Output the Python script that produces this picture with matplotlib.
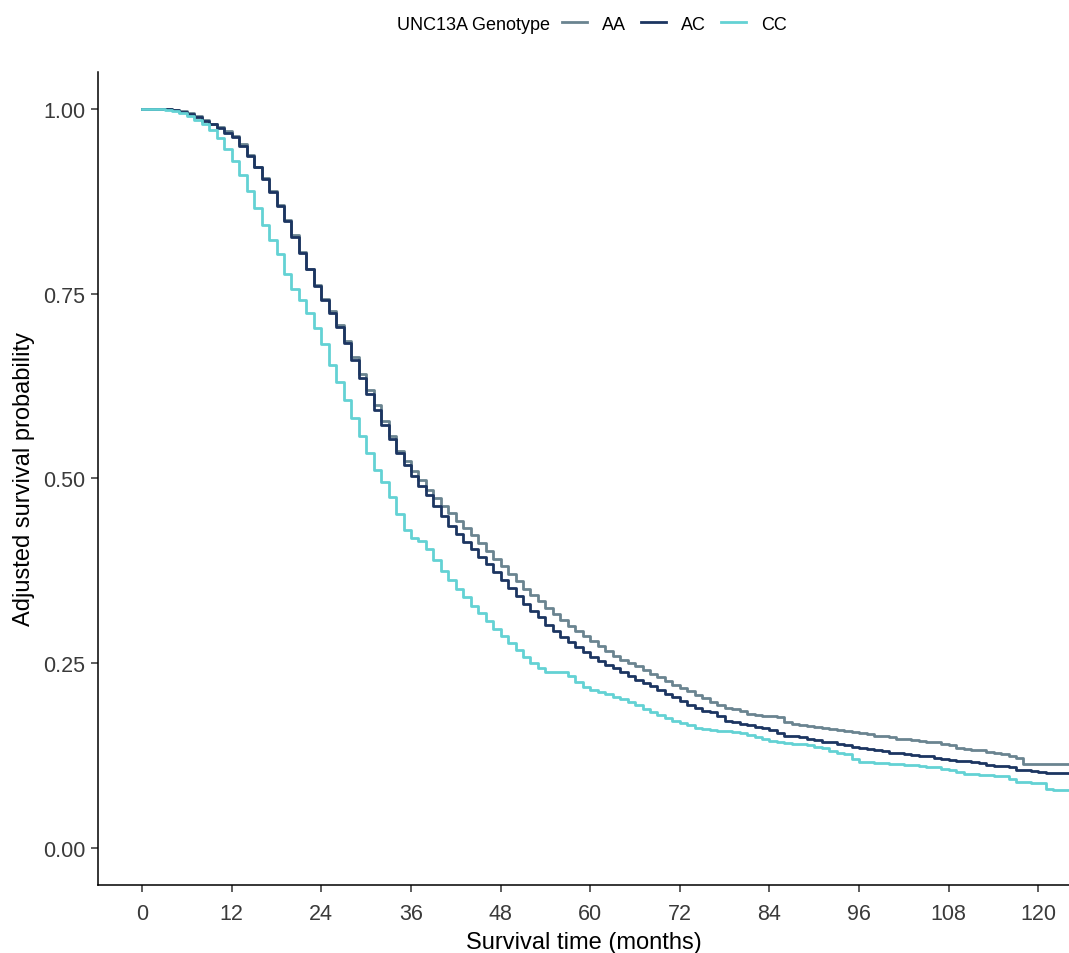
import numpy as np
import matplotlib
matplotlib.use("Agg")
import matplotlib.pyplot as plt

plt.rcParams['font.family'] = ['Liberation Sans', 'DejaVu Sans']

# months since onset, one value per month
months = list(range(0, 125))

aa = [1.000, 1.000, 1.000, 1.000, 0.999, 0.997, 0.994, 0.990, 0.985, 0.980,
      0.975, 0.970, 0.964, 0.952, 0.938, 0.922, 0.906, 0.889, 0.870, 0.850,
      0.829, 0.807, 0.784, 0.762, 0.743, 0.726, 0.707, 0.686, 0.664, 0.641,
      0.620, 0.599, 0.578, 0.558, 0.537, 0.523, 0.510, 0.498, 0.484, 0.473,
      0.463, 0.453, 0.443, 0.433, 0.423, 0.413, 0.402, 0.391, 0.381, 0.371,
      0.361, 0.351, 0.342, 0.334, 0.325, 0.317, 0.309, 0.301, 0.294, 0.287,
      0.280, 0.273, 0.266, 0.260, 0.255, 0.251, 0.246, 0.241, 0.236, 0.231,
      0.226, 0.221, 0.217, 0.212, 0.207, 0.203, 0.198, 0.194, 0.190, 0.188,
      0.185, 0.182, 0.180, 0.179, 0.178, 0.177, 0.170, 0.168, 0.166, 0.165,
      0.164, 0.162, 0.161, 0.160, 0.158, 0.157, 0.155, 0.154, 0.152, 0.151,
      0.150, 0.148, 0.147, 0.146, 0.145, 0.144, 0.143, 0.141, 0.139, 0.136,
      0.134, 0.133, 0.132, 0.130, 0.128, 0.127, 0.125, 0.122, 0.114, 0.114,
      0.114, 0.114, 0.114, 0.114, 0.114]

ac = [1.000, 1.000, 1.000, 1.000, 0.998, 0.996, 0.993, 0.989, 0.984, 0.979,
      0.974, 0.968, 0.962, 0.950, 0.936, 0.921, 0.905, 0.888, 0.869, 0.849,
      0.827, 0.805, 0.783, 0.760, 0.741, 0.724, 0.705, 0.683, 0.660, 0.636,
      0.614, 0.593, 0.572, 0.553, 0.535, 0.518, 0.503, 0.490, 0.477, 0.463,
      0.449, 0.436, 0.425, 0.414, 0.404, 0.394, 0.384, 0.373, 0.363, 0.352,
      0.341, 0.330, 0.321, 0.312, 0.302, 0.294, 0.286, 0.279, 0.272, 0.265,
      0.259, 0.253, 0.248, 0.243, 0.238, 0.233, 0.228, 0.223, 0.219, 0.214,
      0.209, 0.204, 0.199, 0.194, 0.190, 0.186, 0.184, 0.178, 0.172, 0.170,
      0.168, 0.166, 0.164, 0.162, 0.160, 0.156, 0.152, 0.151, 0.150, 0.148,
      0.146, 0.144, 0.143, 0.141, 0.139, 0.137, 0.136, 0.134, 0.133, 0.131,
      0.129, 0.128, 0.127, 0.126, 0.125, 0.124, 0.122, 0.120, 0.119, 0.118,
      0.118, 0.117, 0.115, 0.113, 0.111, 0.111, 0.109, 0.106, 0.105, 0.104,
      0.103, 0.101, 0.101, 0.101, 0.101]

cc = [1.000, 1.000, 1.000, 0.999, 0.997, 0.994, 0.990, 0.985, 0.979, 0.971,
      0.960, 0.946, 0.930, 0.910, 0.889, 0.866, 0.843, 0.822, 0.804, 0.776,
      0.756, 0.742, 0.724, 0.703, 0.682, 0.654, 0.630, 0.606, 0.582, 0.557,
      0.534, 0.511, 0.495, 0.475, 0.452, 0.430, 0.420, 0.415, 0.405, 0.390,
      0.375, 0.362, 0.351, 0.339, 0.328, 0.318, 0.307, 0.297, 0.287, 0.278,
      0.268, 0.258, 0.251, 0.243, 0.238, 0.238, 0.238, 0.233, 0.225, 0.218,
      0.214, 0.211, 0.208, 0.205, 0.201, 0.197, 0.193, 0.188, 0.184, 0.180,
      0.176, 0.172, 0.169, 0.166, 0.163, 0.161, 0.160, 0.159, 0.158, 0.157,
      0.155, 0.153, 0.150, 0.147, 0.145, 0.143, 0.142, 0.141, 0.141, 0.139,
      0.137, 0.135, 0.131, 0.129, 0.127, 0.121, 0.116, 0.116, 0.115, 0.115,
      0.114, 0.114, 0.113, 0.112, 0.111, 0.110, 0.109, 0.107, 0.105, 0.103,
      0.100, 0.100, 0.099, 0.099, 0.098, 0.098, 0.094, 0.089, 0.089, 0.088,
      0.088, 0.080, 0.078, 0.078, 0.078]

genotypes = ['AA', 'AC', 'CC']
colors = ['#6a8490', '#1c3561', '#63d2d4']

fig = plt.figure(figsize=(10.69, 9.54), dpi=100)
ax = fig.add_axes([0.0917, 0.0713, 0.9083, 0.8522])

for g, y, c in zip(genotypes, [aa, ac, cc], colors):
    ax.plot(months, y, drawstyle='steps-post', color=c, lw=2.0, label=g)

ax.set_xlim(-5.9, 124.1)
ax.set_ylim(-0.05, 1.05)
ax.set_xticks(range(0, 121, 12))
ax.set_yticks([0, 0.25, 0.5, 0.75, 1.0])
ax.set_yticklabels(['0.00', '0.25', '0.50', '0.75', '1.00'])
for s in ['top', 'right']:
    ax.spines[s].set_visible(False)
for s in ['left', 'bottom']:
    ax.spines[s].set_linewidth(1.1)
ax.tick_params(direction='out', length=5, width=1.1, labelsize=15.5,
               labelcolor='#3a3a3a', colors='#333333')
ax.tick_params(axis='x', pad=8)
ax.tick_params(axis='y', pad=4)
ax.set_xlabel('Survival time (months)', fontsize=17, labelpad=5)
ax.set_ylabel('Adjusted survival probability', fontsize=17, labelpad=6)

fig.text(550 / 1069, 1 - 25 / 954, 'UNC13A Genotype', ha='right', va='center',
         fontsize=13)
fig.legend(loc='center left', bbox_to_anchor=(562 / 1069, 1 - 25 / 954),
           ncol=3, frameon=False, fontsize=13, handlelength=1.4,
           handletextpad=0.8, columnspacing=0.85, borderaxespad=0,
           borderpad=0)

fig.savefig('out.png', dpi=100)
